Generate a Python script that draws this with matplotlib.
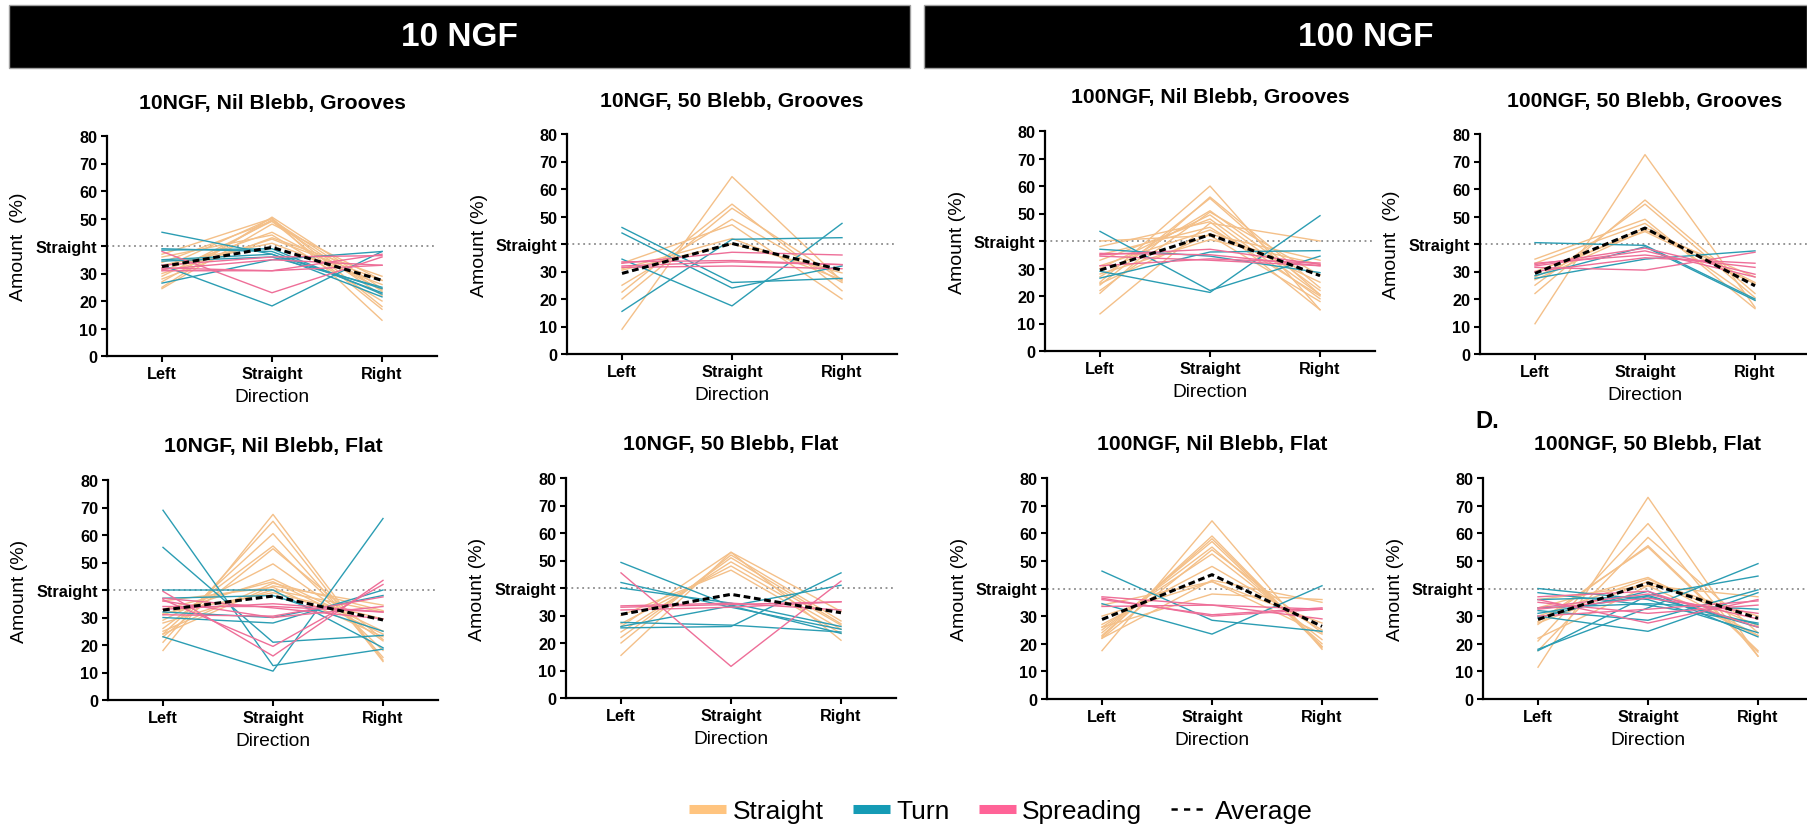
import matplotlib
matplotlib.use("Agg")
import numpy as np
import matplotlib.pyplot as plt
from matplotlib.lines import Line2D
from matplotlib.patches import Rectangle

plt.rcParams['font.family'] = ['Liberation Sans', 'DejaVu Sans']

# ---------------------------------------------------------------- data
directions = ['Left', 'Straight', 'Right']
y_ticks = [0, 10, 20, 30, 40, 50, 60, 70, 80]
y_tick_labels = ['0', '10', '20', '30', 'Straight', '50', '60', '70', '80']
straight_level = 40

panel_titles = [
    '10NGF, Nil Blebb, Grooves', '10NGF, 50 Blebb, Grooves',
    '100NGF, Nil Blebb, Grooves', '100NGF, 50 Blebb, Grooves',
    '10NGF, Nil Blebb, Flat', '10NGF, 50 Blebb, Flat',
    '100NGF, Nil Blebb, Flat', '100NGF, 50 Blebb, Flat',
]

# each row: amount (%) going Left, Straight, Right for one growth cone
ngf10_nil_grooves_straight = [(37, 50, 13), (25, 50.5, 24.5), (27, 49.5, 23.5), (29, 49, 22),
                              (31, 45, 24), (28, 43, 29), (33, 41, 26), (30, 42.5, 27.5),
                              (24.5, 48, 27.5), (32, 50, 18), (36, 44, 20), (34, 49, 17)]
ngf10_nil_grooves_turn = [(45, 37, 21.5), (39, 38, 23), (38.5, 39, 22.5), (33, 18.2, 38),
                          (26.5, 35, 38), (34.5, 36, 25), (35, 37, 24.5)]
ngf10_nil_grooves_spreading = [(32, 31, 37), (31.5, 35, 33), (38, 23, 36), (33, 36, 36.5), (31, 31, 33)]
ngf10_nil_grooves_average = [32.5, 39.5, 27.5]

ngf10_50_grooves_straight = [(9, 64.5, 26.5), (22.5, 54.5, 23), (20, 53, 27), (25, 49, 26),
                             (33, 47, 20), (31, 42, 27), (30.5, 40, 29.5)]
ngf10_50_grooves_turn = [(46, 26, 27.5), (44, 24, 32), (34.5, 17.5, 47.5), (15.5, 41.7, 42.3)]
ngf10_50_grooves_spreading = [(33, 37, 36), (32, 33.5, 32.5), (31.5, 32, 31), (33.5, 34, 32.5)]
ngf10_50_grooves_average = [29.3, 40.2, 30.5]

ngf100_nil_grooves_straight = [(25, 60, 15), (21, 56, 23), (24, 55.5, 20.5), (27, 51, 22),
                               (30, 49.5, 20.5), (33, 48, 19), (13.5, 46.5, 40), (35, 45, 20),
                               (40, 42, 18), (31, 44, 25), (24.5, 42.5, 33), (28, 40.5, 31.5),
                               (38, 47, 15), (22, 50.5, 27.5)]
ngf100_nil_grooves_turn = [(43.5, 22, 34.5), (29, 21.3, 49.2), (37, 34.5, 28.5), (26.5, 36, 36.5)]
ngf100_nil_grooves_spreading = [(35, 37, 31.5), (31, 33.5, 32), (35.5, 35, 31), (34.5, 33, 31)]
ngf100_nil_grooves_average = [29.4, 42.3, 27.4]

ngf100_50_grooves_straight = [(11, 72.5, 17), (22, 56, 22), (25, 54.5, 20.5), (34.5, 49, 16.5),
                              (33, 47.5, 19.5), (28, 46, 26), (27, 45, 28), (30, 44.5, 25.5)]
ngf100_50_grooves_turn = [(40.5, 39.5, 20), (27.5, 34.5, 37.5), (28.5, 39, 19.5)]
ngf100_50_grooves_spreading = [(32.5, 38.5, 29), (33, 36, 31.5), (31.5, 30.5, 37), (30, 35, 33),
                               (32, 37.5, 28)]
ngf100_50_grooves_average = [29.3, 45.8, 24.8]

ngf10_nil_flat_straight = [(18, 67.5, 14.5), (21, 65, 14), (24, 60.5, 15.5), (26, 56, 18),
                           (23, 55, 22), (29, 49.5, 21.5), (31, 44, 25), (33, 43, 24),
                           (25, 42.5, 32.5), (36, 41, 23), (24, 41.5, 34.5), (31.5, 39, 29.5),
                           (28, 40, 32)]
ngf10_nil_flat_turn = [(69, 12.5, 18.5), (55.5, 21, 23.5), (23, 10.5, 66), (40, 40, 19),
                       (37, 38, 25), (30, 28, 40), (32, 30, 38)]
ngf10_nil_flat_spreading = [(39.5, 16, 43.5), (36.5, 19.5, 42), (36, 30, 34), (34, 34, 32),
                            (37, 33.5, 29.5), (33, 35, 32), (31, 30.5, 37.5)]
ngf10_nil_flat_average = [32.7, 37.8, 29.1]

ngf10_50_flat_straight = [(15.5, 53, 31.5), (20, 52, 28), (22, 51, 27), (24, 49.5, 26.5),
                          (27, 48, 25), (30, 46.5, 23.5), (26, 53, 21)]
ngf10_50_flat_turn = [(49.3, 33.5, 23.5), (42, 33, 25), (40, 34.5, 26), (25.5, 26, 45.5),
                      (27.5, 26.5, 24), (26, 33.5, 41)]
ngf10_50_flat_spreading = [(45.5, 11.5, 42.5), (33, 34, 35), (32, 33, 35), (33.5, 34.5, 32)]
ngf10_50_flat_average = [30.4, 37.7, 31.0]

ngf100_nil_flat_straight = [(17.5, 64.5, 18), (22.5, 59, 18.5), (23, 58, 19), (24, 57, 19),
                            (25, 55, 20), (22, 54, 24), (26, 52.5, 21.5), (27, 48, 25),
                            (22, 43, 35), (34, 42.5, 23.5), (30, 42.5, 27.5), (26, 38, 36)]
ngf100_nil_flat_turn = [(46.3, 28.5, 24.5), (34.5, 23.5, 41)]
ngf100_nil_flat_spreading = [(37, 34, 29), (36.5, 30, 32.5), (36, 30.5, 33), (33.5, 34, 32.5)]
ngf100_nil_flat_average = [28.8, 45.0, 26.3]

ngf100_50_flat_straight = [(11.5, 73, 15.5), (21, 63.5, 15.5), (17.5, 58.5, 24), (27, 55.5, 17.5),
                           (28, 55, 17), (33, 44, 23), (30, 43.5, 26.5), (27.5, 42.5, 30),
                           (22, 41, 37), (36, 41, 23)]
ngf100_50_flat_turn = [(18, 33, 49), (17.5, 37.5, 44.5), (40, 36, 24), (38.5, 34, 27.5),
                       (30, 24.5, 38.5), (32, 28.5, 39.5), (36, 37, 27), (33, 34.5, 32.5),
                       (31, 37.5, 26), (29.5, 39, 22.5)]
ngf100_50_flat_spreading = [(37, 39, 26), (36, 27.5, 36), (33, 38, 29), (35, 31, 34),
                            (32.5, 36.5, 31), (30, 32.5, 35.5)]
ngf100_50_flat_average = [28.8, 42.0, 29.2]

panel_data = [
    (ngf10_nil_grooves_straight, ngf10_nil_grooves_turn, ngf10_nil_grooves_spreading, ngf10_nil_grooves_average),
    (ngf10_50_grooves_straight, ngf10_50_grooves_turn, ngf10_50_grooves_spreading, ngf10_50_grooves_average),
    (ngf100_nil_grooves_straight, ngf100_nil_grooves_turn, ngf100_nil_grooves_spreading, ngf100_nil_grooves_average),
    (ngf100_50_grooves_straight, ngf100_50_grooves_turn, ngf100_50_grooves_spreading, ngf100_50_grooves_average),
    (ngf10_nil_flat_straight, ngf10_nil_flat_turn, ngf10_nil_flat_spreading, ngf10_nil_flat_average),
    (ngf10_50_flat_straight, ngf10_50_flat_turn, ngf10_50_flat_spreading, ngf10_50_flat_average),
    (ngf100_nil_flat_straight, ngf100_nil_flat_turn, ngf100_nil_flat_spreading, ngf100_nil_flat_average),
    (ngf100_50_flat_straight, ngf100_50_flat_turn, ngf100_50_flat_spreading, ngf100_50_flat_average),
]

legend_labels = ['Straight', 'Turn', 'Spreading', 'Average']

# ---------------------------------------------------------------- style
LINE_COLORS = ['#f4c089', '#2b9db3', '#ee6e98']
PATCH_COLORS = ['#ffc47f', '#159bb5', '#ff6397']

W, H = 1807, 828
fig = plt.figure(figsize=(W / 100, H / 100), dpi=100)

# axes placement in pixels: left edge, top (y=80), bottom (y=0)
axes_px = [
    (107, 137, 357), (567, 135, 355), (1045, 132, 352), (1480, 135, 355),
    (108, 481, 701), (566, 479, 699), (1047, 479, 700), (1483, 479, 700),
]
AX_W = 330
ylabel_text = ['Amount  (%)', 'Amount (%)', 'Amount (%)', 'Amount  (%)',
               'Amount (%)', 'Amount (%)', 'Amount (%)', 'Amount (%)']

x = np.arange(len(directions))

for i, ((x0, ytop, ybot), title, data) in enumerate(zip(axes_px, panel_titles, panel_data)):
    ax_h = ybot - ytop
    ax = fig.add_axes([x0 / W, 1 - ybot / H, AX_W / W, ax_h / H])
    ax.set_xlim(-0.5, 2.5)
    ax.set_ylim(0, 80)

    ax.axhline(straight_level, color='#8c8c8c', lw=1.3, ls=(0, (1, 2)), zorder=1)

    for group, color in zip(data[:3], LINE_COLORS):
        for row in group:
            ax.plot(x, row, color=color, lw=1.0, zorder=2)
    ax.plot(x, data[3], color='black', lw=2.2, dashes=(2.2, 1.2), zorder=4)

    for side in ('top', 'right'):
        ax.spines[side].set_visible(False)
    for side in ('left', 'bottom'):
        ax.spines[side].set_linewidth(1.6)

    ax.set_xticks(x, directions, fontweight='bold')
    ax.set_yticks(y_ticks, y_tick_labels, fontweight='bold')
    ax.tick_params(axis='both', direction='out', length=4, width=1.5,
                   labelsize=11.7, pad=3)

    ax.text(0.5, 1 + 34 / ax_h, title, transform=ax.transAxes, ha='center',
            va='center', fontsize=15.2, fontweight='bold')
    ax.text(0.5, -41 / ax_h, 'Direction', transform=ax.transAxes, ha='center',
            va='center', fontsize=13.8)
    ax.text(-88 / AX_W, 0.5, ylabel_text[i], transform=ax.transAxes, ha='center',
            va='center', rotation=90, fontsize=14)

# header bars
for (bx0, bx1), label in zip([(9, 910), (924, 1807)], ['10 NGF', '100 NGF']):
    fig.add_artist(Rectangle((bx0 / W, 1 - 69 / H), (bx1 - bx0) / W, 63 / H,
                             transform=fig.transFigure, facecolor='black',
                             edgecolor='#a0a0a0', lw=1))
    fig.text((bx0 + bx1) / 2 / W, 1 - 37.5 / H, label, color='white', fontsize=24,
             fontweight='bold', ha='center', va='center')

fig.text(1475 / W, 1 - 422 / H, 'D.', fontsize=17, fontweight='bold',
         ha='left', va='center')

handles = [Line2D([], [], color=c, lw=6.5, solid_capstyle='butt') for c in PATCH_COLORS]
handles.append(Line2D([], [], color='black', lw=1.8, dashes=(2.5, 2.5)))
fig.legend(handles, legend_labels, loc='center', bbox_to_anchor=(1001 / W, 1 - 812 / H),
           ncol=4, frameon=False, fontsize=19, handlelength=1.4, handletextpad=0.25,
           columnspacing=1.1, borderpad=0)

fig.savefig('out.png', dpi=100)
